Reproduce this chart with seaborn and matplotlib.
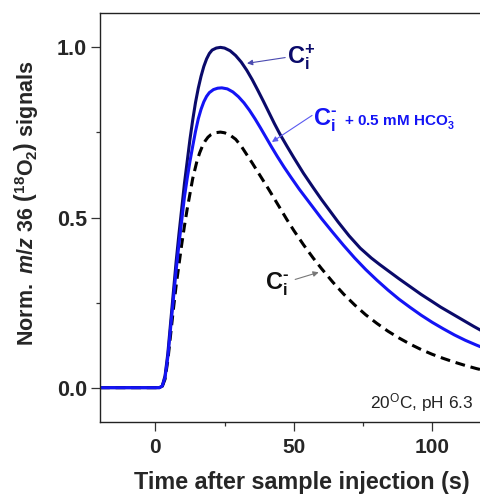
import numpy as np
import pandas as pd
import matplotlib
matplotlib.use("Agg")
import matplotlib.pyplot as plt
import seaborn as sns

# -------------------------------------------------------------------
# Data (time in s, normalised signal)
# -------------------------------------------------------------------
t_ci_plus = [-20, 0, 1.5, 2.5, 3.5, 4.5, 5.5, 6.5, 7.5, 8.5, 9.5, 10.5, 11.5,
             12.5, 13.5, 14.5, 15.5, 16.5, 17.5, 18.5, 19.5, 20.5, 22, 23.5,
             25, 27, 29, 31, 33, 35, 37, 39, 41, 43, 45, 47.5, 50, 53.5, 57,
             60, 62, 66, 70, 74, 78, 81, 85, 88, 92, 96, 100, 103, 107, 111,
             115, 119]
ci_plus = [0, 0, 0, 0.005, 0.035, 0.10, 0.19, 0.28, 0.37, 0.45, 0.525, 0.60,
           0.665, 0.73, 0.787, 0.838, 0.88, 0.915, 0.944, 0.966, 0.982, 0.992,
           0.998, 1.0, 0.998, 0.99, 0.976, 0.957, 0.933, 0.905, 0.874, 0.842,
           0.809, 0.776, 0.745, 0.71, 0.676, 0.630, 0.588, 0.553, 0.531, 0.487,
           0.446, 0.41, 0.381, 0.362, 0.338, 0.320, 0.297, 0.274, 0.253, 0.237,
           0.218, 0.199, 0.18, 0.162]

t_ci_hco3 = [-20, 0, 1.5, 2.5, 3.5, 4.5, 5.5, 6.5, 7.5, 8.5, 9.5, 10.5, 11.5,
             12.5, 13.5, 14.5, 15.5, 16.5, 17.5, 18.5, 19.5, 21, 22.5, 24, 26,
             28, 30, 32, 34, 36, 38, 40, 42, 44, 46.5, 49, 52, 56, 60, 64, 68,
             72, 76, 80, 84, 88, 92, 96, 100, 104, 108, 112, 116, 119]
ci_hco3 = [0, 0, 0, 0.005, 0.03, 0.09, 0.175, 0.26, 0.345, 0.42, 0.49, 0.56,
           0.615, 0.665, 0.71, 0.753, 0.79, 0.818, 0.84, 0.856, 0.867, 0.876,
           0.88, 0.881, 0.878, 0.869, 0.855, 0.837, 0.815, 0.79, 0.763, 0.735,
           0.707, 0.68, 0.648, 0.618, 0.583, 0.54, 0.497, 0.457, 0.418, 0.381,
           0.347, 0.316, 0.287, 0.26, 0.236, 0.213, 0.192, 0.173, 0.155, 0.139,
           0.125, 0.115]

t_ci_minus = [-20, 0, 1.5, 2.5, 3.5, 4.5, 5.5, 6.5, 7.5, 8.5, 9.5, 10.5, 11.5,
              12.5, 13.5, 15, 16, 17, 18, 19, 20, 21.5, 23.5, 25, 27, 29, 31,
              33, 35, 37, 39, 41, 43, 45, 47.5, 50, 53.5, 57, 60, 64, 68, 72,
              76, 80, 84, 88, 92, 96, 100, 104, 108, 112, 116, 119]
ci_minus = [0, 0, 0, 0.004, 0.025, 0.08, 0.155, 0.23, 0.30, 0.36, 0.42, 0.475,
            0.525, 0.57, 0.615, 0.665, 0.69, 0.71, 0.725, 0.736, 0.743, 0.749,
            0.751, 0.749, 0.742, 0.73, 0.71, 0.685, 0.66, 0.634, 0.608, 0.582,
            0.555, 0.528, 0.494, 0.462, 0.42, 0.381, 0.35, 0.311, 0.275, 0.243,
            0.214, 0.189, 0.166, 0.146, 0.128, 0.112, 0.098, 0.086, 0.075,
            0.065, 0.056, 0.05]

x_major = [0, 50, 100]
y_major = [0.0, 0.5, 1.0]

NAVY = "#0a0a6a"
BLUE = "#1414f5"

sns.set_theme(style="ticks")
plt.rcParams["font.family"] = ["Liberation Sans", "DejaVu Sans"]
plt.rcParams["mathtext.fontset"] = "custom"
plt.rcParams["mathtext.rm"] = "Liberation Sans:bold"
plt.rcParams["mathtext.bf"] = "Liberation Sans:bold"
plt.rcParams["mathtext.it"] = "Liberation Sans:italic:bold"
plt.rcParams["mathtext.sf"] = "Liberation Sans"

fig = plt.figure(figsize=(4.81, 4.94), dpi=100)
ax = fig.add_axes([0.2079, 0.1464, 0.80, 0.8266])

sns.lineplot(x=t_ci_plus, y=ci_plus, ax=ax, color=NAVY, linewidth=2.2)
sns.lineplot(x=t_ci_minus, y=ci_minus, ax=ax, color="black", linewidth=2.2,
             linestyle=(0, (3.2, 1.9)))
sns.lineplot(x=t_ci_hco3, y=ci_hco3, ax=ax, color=BLUE, linewidth=2.2)

ax.set_xlim(-20, 119)
ax.set_ylim(-0.1, 1.1)
ax.set_xticks(x_major)
ax.set_xticks([25, 75], minor=True)
ax.set_yticks(y_major)
ax.set_yticks([0.25, 0.75], minor=True)
ax.set_xticklabels([str(v) for v in x_major], fontweight="bold", fontsize=15)
ax.set_yticklabels([f"{v:.1f}" for v in y_major], fontweight="bold", fontsize=15.5)
ax.tick_params(which="major", direction="out", length=6.5, width=0.9,
               color="#333333")
ax.tick_params(axis="x", which="major", pad=5)
ax.tick_params(axis="y", which="major", pad=3)
ax.tick_params(which="minor", direction="out", length=3, width=0.9,
               color="#333333")
ax.spines["right"].set_visible(False)
for s in ["left", "bottom", "top"]:
    ax.spines[s].set_linewidth(1.0)
    ax.spines[s].set_color("#222222")

ax.set_xlabel("Time after sample injection (s)", fontsize=16.8,
              fontweight="bold", va="top")
ax.xaxis.set_label_coords(0.524, -0.121)
ax.set_ylabel(r"$\mathrm{Norm.}\ \mathit{m/z}\ \mathrm{36}\ "
              r"\left(^{18}\mathrm{O}_{2}\right)\ \mathrm{signals}$",
              fontsize=15.5)
ax.yaxis.set_label_coords(-0.153, 0.535)

# annotations
ax.text(47.5, 0.97, r"$\mathrm{C}_{\mathrm{i}}^{+}$", fontsize=17, color=NAVY,
        va="center", ha="left")
ax.annotate("", xy=(33.1, 0.953), xytext=(46.9, 0.97),
            arrowprops=dict(arrowstyle="-|>", color="#4a4ab0", lw=0.8,
                            mutation_scale=8, shrinkA=0, shrinkB=0))

ax.text(57.0, 0.785, r"$\mathrm{C}_{\mathrm{i}}^{\text{-}}$", fontsize=17,
        color=BLUE, va="center", ha="left")
ax.text(68.0, 0.782, r"+ 0.5 mM HCO$_{3}^{\text{-}}$", fontsize=11, color=BLUE,
        fontweight="bold", va="center", ha="left")
ax.annotate("", xy=(42.1, 0.722), xytext=(56.6, 0.80),
            arrowprops=dict(arrowstyle="-|>", color="#5a5af0", lw=0.8,
                            mutation_scale=8, shrinkA=0, shrinkB=0))

ax.text(39.5, 0.305, r"$\mathrm{C}_{\mathrm{i}}^{\text{-}}$", fontsize=17,
        color="#111111", va="center", ha="left")
ax.annotate("", xy=(59.0, 0.339), xytext=(50.5, 0.318),
            arrowprops=dict(arrowstyle="-|>", color="#777777", lw=0.8,
                            mutation_scale=8, shrinkA=0, shrinkB=0))

ax.text(114.8, -0.06, r"20$^{\mathsf{O}}$C, pH 6.3", fontsize=12.4,
        color="#222222", ha="right", va="baseline")

fig.savefig("out.png", dpi=100)
